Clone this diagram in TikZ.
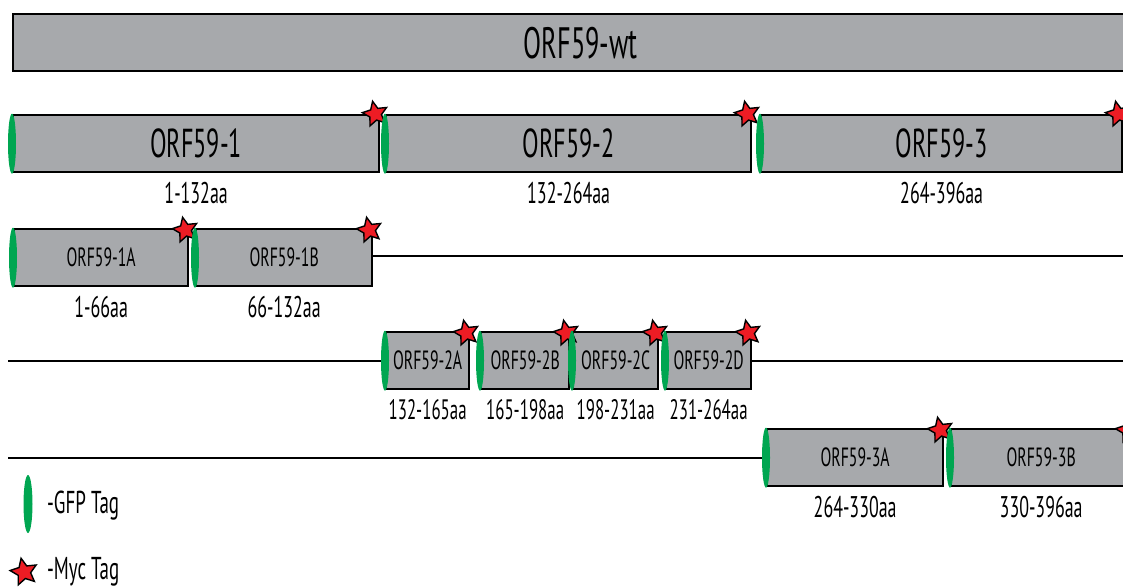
\documentclass[tikz,border=0pt]{standalone}
\usepackage{fontspec}
\setmainfont{PT Sans}[FakeStretch=0.6]
\usetikzlibrary{positioning,shapes.geometric}
\definecolor{boxgray}{HTML}{A7A9AC}
\definecolor{gfpgreen}{HTML}{00A651}
\definecolor{mycred}{HTML}{ED1C24}
\newcommand{\pxu}{0.02cm}
\tikzset{
  orf/.style={draw, line width=1.3pt, fill=boxgray, anchor=north west, inner sep=0pt,
    minimum height=57*\pxu, font=\fontsize{23}{27}\selectfont},
  orfmid/.style={orf, font=\fontsize{15}{18}\selectfont},
  orfsmall/.style={orf, font=\fontsize{15}{18}\selectfont},
  aa/.style={font=\fontsize{17}{20}\selectfont, inner sep=1pt},
  aasmall/.style={aa, font=\fontsize{16}{19}\selectfont},
  gfp/.style={ellipse, fill=gfpgreen, inner sep=0pt, minimum width=8*\pxu, minimum height=60*\pxu},
  myc/.style={star, star points=5, star point ratio=2.1, fill=mycred, draw, line width=0.8pt,
    inner sep=0pt, minimum size=26*\pxu, rotate=12},
  tline/.style={line width=1.1pt}
}

\begin{document}
\begin{tikzpicture}[x=\pxu,y=-\pxu]
\clip (0,0) rectangle (1123,586);
\node[orf, minimum width=1135*\pxu, font=\fontsize{25}{29}\selectfont] (wt) at (12,13) {ORF59-wt};

\node[orf, minimum width=366*\pxu] (b1) at (12,114) {ORF59-1};
\node[orf, minimum width=365*\pxu] (b2) at (385,114) {ORF59-2};
\node[orf, minimum width=361*\pxu] (b3) at (760,114) {ORF59-3};
\node[aa, below=4pt of b1] (l1) {1-132aa};
\node[aa, below=4pt of b2] (l2) {132-264aa};
\node[aa, below=4pt of b3] (l3) {264-396aa};
\foreach \b in {b1,b2,b3} {
  \node[gfp] (g\b) at (\b.west) {};
  \node[myc] (m\b) at ([xshift=-5*\pxu]\b.north east) {};
}

\coordinate (rend) at (1130,0);
\coordinate (lend) at (8,0);
\node[orfmid, minimum width=174*\pxu] (b1A) at (13,228) {ORF59-1A};
\node[orfmid, minimum width=176*\pxu] (b1B) at (195,228) {ORF59-1B};
\node[aa, below=4pt of b1A] (l1A) {1-66aa};
\node[aa, below=4pt of b1B] (l1B) {66-132aa};
\draw[tline] ([yshift=2*\pxu]b1B.east) -- ([yshift=2*\pxu]b1B.east -| rend);

\node[orfsmall, minimum width=83*\pxu] (b2A) at (385,331) {ORF59-2A};
\node[orfsmall, minimum width=88*\pxu] (b2B) at (480,331) {ORF59-2B};
\node[orfsmall, minimum width=85*\pxu] (b2C) at (572,331) {ORF59-2C};
\node[orfsmall, minimum width=85*\pxu] (b2D) at (665,331) {ORF59-2D};
\node[aasmall, below=4pt of b2A] (l2A) {132-165aa};
\node[aasmall, below=4pt of b2B] (l2B) {165-198aa};
\node[aasmall, below=4pt of b2C] (l2C) {198-231aa};
\node[aasmall, below=4pt of b2D] (l2D) {231-264aa};
\draw[tline] (b2A.west -| lend) -- (b2A.west);
\draw[tline] (b2D.east) -- (b2D.east -| rend);

\node[orfmid, minimum width=176*\pxu] (b3A) at (766,428) {ORF59-3A};
\node[orfmid, minimum width=180*\pxu] (b3B) at (950,428) {ORF59-3B};
\node[aa, below=4pt of b3A] (l3A) {264-330aa};
\node[aa, below=4pt of b3B] (l3B) {330-396aa};
\draw[tline] (b3A.west -| lend) -- (b3A.west);

\foreach \b in {b1A,b1B,b2A,b2B,b2C,b2D,b3A,b3B} {
  \node[gfp] (g\b) at (\b.west) {};
  \node[myc] (m\b) at ([xshift=-4*\pxu,yshift=-2*\pxu]\b.north east) {};
}

\node[gfp, minimum width=9*\pxu, minimum height=58*\pxu] (kgfp) at (28,504) {};
\node[aa, anchor=west, font=\fontsize{18}{21}\selectfont] (tgfp) at (45,506) {-GFP Tag};
\node[myc, minimum size=28*\pxu] (kmyc) at (24,572) {};
\node[aa, anchor=west, font=\fontsize{18}{21}\selectfont] (tmyc) at (45,572) {-Myc Tag};
\end{tikzpicture}
\end{document}
